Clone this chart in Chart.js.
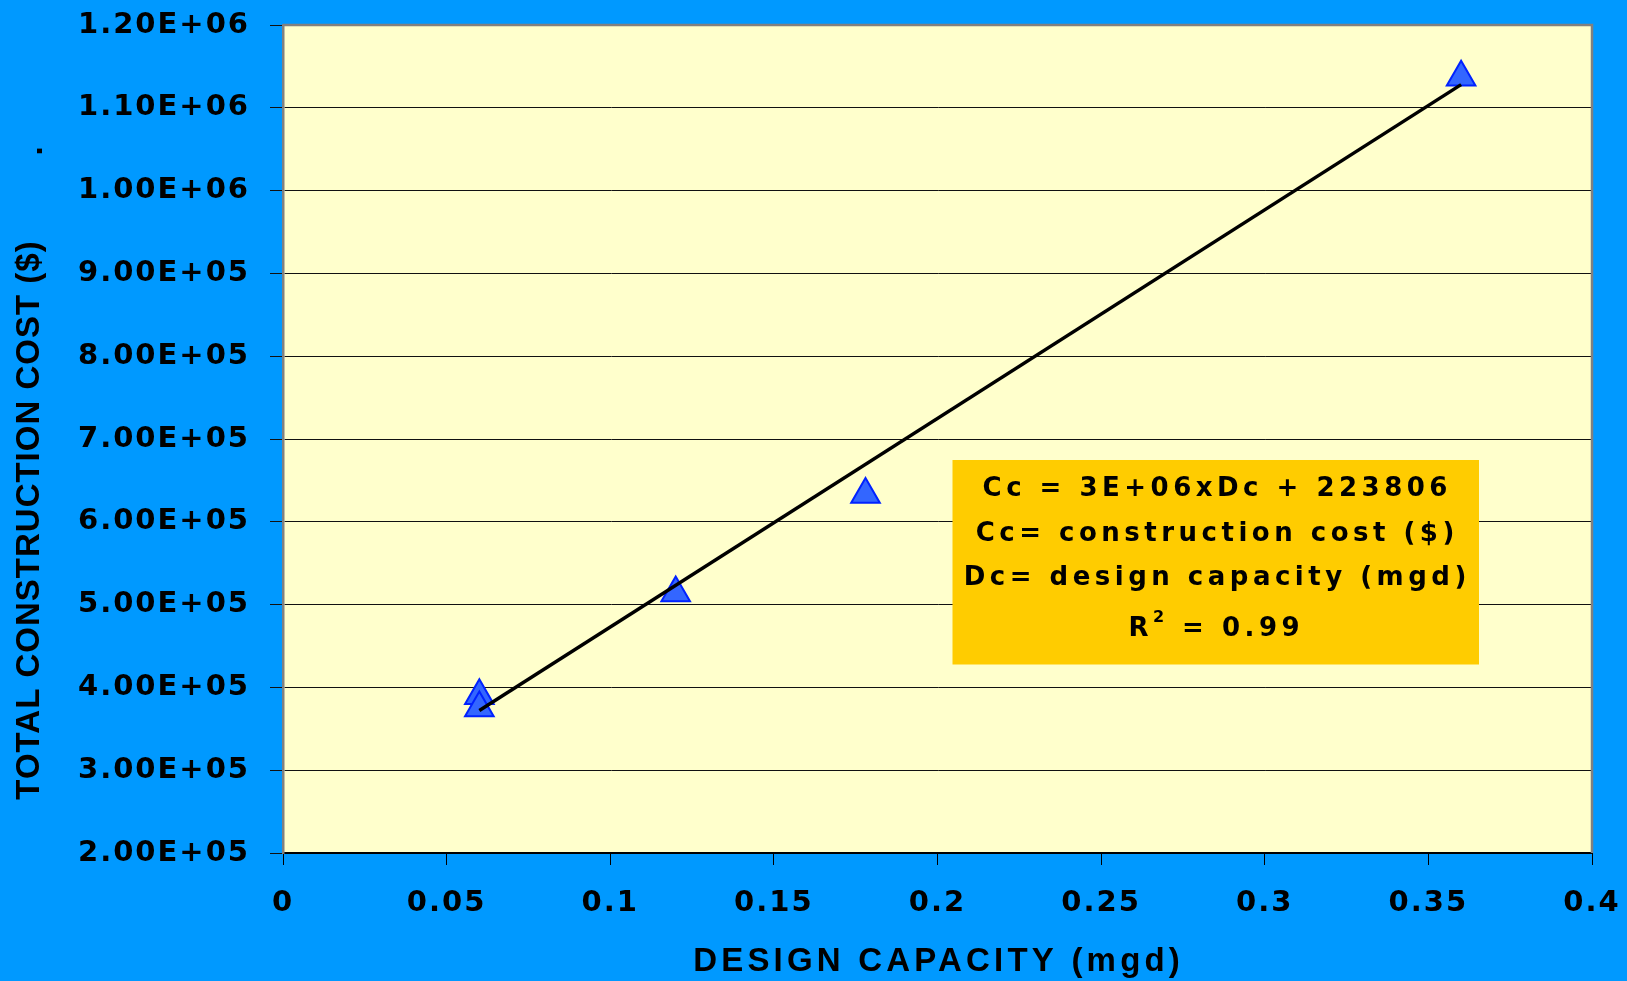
<!DOCTYPE html>
<html><head><meta charset="utf-8">
<script src="https://cdn.jsdelivr.net/npm/chart.js@4.4.1/dist/chart.umd.min.js"></script>
<style>html,body{margin:0;padding:0;background:#0099FF;overflow:hidden;} canvas{display:block;}</style>
</head><body>
<canvas id="c" width="1627" height="981" style="width:1627px;height:981px"></canvas>
<script>
// ---- data ----
const capacityX = [0.06, 0.06, 0.12, 0.178, 0.36];
const costY = [390000, 375000, 514000, 633000, 1137000];
const trendX = [0.06, 0.36];
const trendY = [372000, 1128000];
const xTickLabels = ['0', '0.05', '0.1', '0.15', '0.2', '0.25', '0.3', '0.35', '0.4'];
const yTickLabels = ['2.00E+05', '3.00E+05', '4.00E+05', '5.00E+05', '6.00E+05', '7.00E+05',
                     '8.00E+05', '9.00E+05', '1.00E+06', '1.10E+06', '1.20E+06'];
const xTitle = 'DESIGN CAPACITY (mgd)';
const yTitle = 'TOTAL CONSTRUCTION COST ($)';
const yTitleDot = '.';
const boxLines = ['Cc = 3E+06xDc + 223806', 'Cc= construction cost ($)', 'Dc= design capacity (mgd)'];
const r2Parts = ['R', '2', ' = 0.99'];

const TITLE_FONT = "'Liberation Sans', Arial, Helvetica, sans-serif";
const WIDE_FONT = "'DejaVu Sans', Verdana, sans-serif";
const TICK_SPACING = '2px';

const spacingPlugin = {
  id: 'spacing',
  beforeUpdate(chart) { chart.ctx.letterSpacing = TICK_SPACING; },
  beforeLayout(chart) { chart.ctx.letterSpacing = TICK_SPACING; },
  beforeDraw(chart) { chart.ctx.letterSpacing = TICK_SPACING; }
};

const bgPlugin = {
  id: 'bg',
  beforeDraw(chart) {
    const { ctx, chartArea: a } = chart;
    ctx.save();
    ctx.fillStyle = '#0099FF';
    ctx.fillRect(0, 0, chart.width, chart.height);
    ctx.fillStyle = '#FFFFCC';
    ctx.fillRect(a.left, a.top, a.right - a.left, a.bottom - a.top);
    ctx.restore();
  },
  beforeDatasetsDraw(chart) {
    const { ctx, chartArea: a } = chart;
    ctx.save();
    ctx.strokeStyle = '#808080';
    ctx.lineWidth = 2.5;
    ctx.beginPath();
    ctx.moveTo(a.left, a.top);
    ctx.lineTo(a.right, a.top);
    ctx.lineTo(a.right, a.bottom);
    ctx.stroke();
    ctx.restore();
  }
};

function spacedText(ctx, text, cx, cy, ls) {
  ctx.letterSpacing = ls + 'px';
  const w = ctx.measureText(text).width;
  ctx.textAlign = 'left';
  ctx.fillText(text, cx - (w - ls) / 2, cy);
}

const boxPlugin = {
  id: 'box',
  afterDatasetsDraw(chart) {
    const ctx = chart.ctx;
    ctx.save();
    ctx.fillStyle = '#FFCC00';
    ctx.fillRect(952.5, 460, 526.5, 204.5);
    ctx.fillStyle = '#000';
    ctx.textBaseline = 'middle';
    ctx.font = 'bold 26px ' + WIDE_FONT;
    const cx = 1215, ls = 4.5;
    const ys = [488.8, 533.8, 577.8];
    boxLines.forEach((t, i) => spacedText(ctx, t, cx, ys[i], ls));
    // R^2 line
    ctx.letterSpacing = ls + 'px';
    ctx.font = 'bold 26px ' + WIDE_FONT;
    const wR = ctx.measureText(r2Parts[0]).width;
    const wRest = ctx.measureText(r2Parts[2]).width;
    ctx.font = 'bold 16px ' + WIDE_FONT;
    const w2 = ctx.measureText(r2Parts[1]).width;
    const total = wR + w2 + wRest - ls;
    let x = 1214 - total / 2;
    ctx.textAlign = 'left';
    ctx.font = 'bold 26px ' + WIDE_FONT;
    ctx.fillText(r2Parts[0], x, 629.7);
    x += wR;
    ctx.font = 'bold 16px ' + WIDE_FONT;
    ctx.fillText(r2Parts[1], x, 618);
    x += w2;
    ctx.font = 'bold 26px ' + WIDE_FONT;
    ctx.fillText(r2Parts[2], x, 629.7);
    ctx.restore();
  },
  afterDraw(chart) {
    const ctx = chart.ctx;
    // x axis title
    ctx.save();
    ctx.fillStyle = '#000';
    ctx.font = 'bold 33px ' + TITLE_FONT;
    ctx.textBaseline = 'middle';
    const a = chart.chartArea;
    spacedText(ctx, xTitle, (a.left + a.right) / 2 - 1, 962, 4.2);
    ctx.restore();
    // y axis title
    ctx.save();
    ctx.fillStyle = '#000';
    ctx.font = 'bold 33px ' + TITLE_FONT;
    ctx.translate(30, 520.5);
    ctx.rotate(-Math.PI / 2);
    ctx.textBaseline = 'middle';
    spacedText(ctx, yTitle, 0, 0, 1);
    ctx.restore();
    ctx.save();
    ctx.fillStyle = '#000';
    ctx.font = 'bold 33px ' + TITLE_FONT;
    ctx.letterSpacing = '0px';
    ctx.translate(42, 151);
    ctx.rotate(-Math.PI / 2);
    ctx.textAlign = 'center';
    ctx.textBaseline = 'alphabetic';
    ctx.fillText(yTitleDot, 0, 0);
    ctx.restore();
  }
};

new Chart(document.getElementById('c'), {
  type: 'scatter',
  data: {
    datasets: [
      {
        label: 'Trend',
        data: trendX.map((x, i) => ({ x: x, y: trendY[i] })),
        showLine: true,
        borderColor: '#000000',
        borderWidth: 3.5,
        pointRadius: 0,
        fill: false,
        order: 0
      },
      {
        label: 'Construction cost',
        data: capacityX.map((x, i) => ({ x: x, y: costY[i] })),
        pointStyle: 'triangle',
        pointRadius: 16.5,
        backgroundColor: '#3366FF',
        borderColor: '#0022FF',
        borderWidth: 2,
        order: 1
      }
    ]
  },
  options: {
    responsive: false,
    animation: false,
    devicePixelRatio: 1,
    layout: { padding: { left: 0, right: 35, top: 25, bottom: 0 } },
    plugins: { legend: { display: false }, tooltip: { enabled: false } },
    scales: {
      x: {
        type: 'linear', min: 0, max: 0.4,
        afterFit(s) { s.height = 128; s.paddingLeft = 0; s.paddingRight = 0; },
        ticks: {
          stepSize: 0.05, autoSkip: false, maxRotation: 0,
          color: '#000', padding: 21,
          font: { family: WIDE_FONT, size: 29, weight: 'bold' },
          callback: (v, i) => xTickLabels[i]
        },
        grid: { drawOnChartArea: false, drawTicks: true, tickLength: 12, color: '#000', lineWidth: 1 },
        border: { display: true, color: '#000', width: 2 },
        title: { display: false }
      },
      y: {
        type: 'linear', min: 200000, max: 1200000,
        afterFit(s) { s.width = 283; s.paddingTop = 0; s.paddingBottom = 0; },
        ticks: {
          stepSize: 100000, autoSkip: false,
          color: '#000', padding: 20,
          font: { family: WIDE_FONT, size: 29, weight: 'bold' },
          callback: (v, i) => yTickLabels[i]
        },
        grid: { drawOnChartArea: true, drawTicks: true, tickLength: 13, color: '#111', lineWidth: 1 },
        border: { display: true, color: '#808080', width: 2.5 },
        title: { display: false }
      }
    }
  },
  plugins: [spacingPlugin, bgPlugin, boxPlugin]
});
</script>
</body></html>
